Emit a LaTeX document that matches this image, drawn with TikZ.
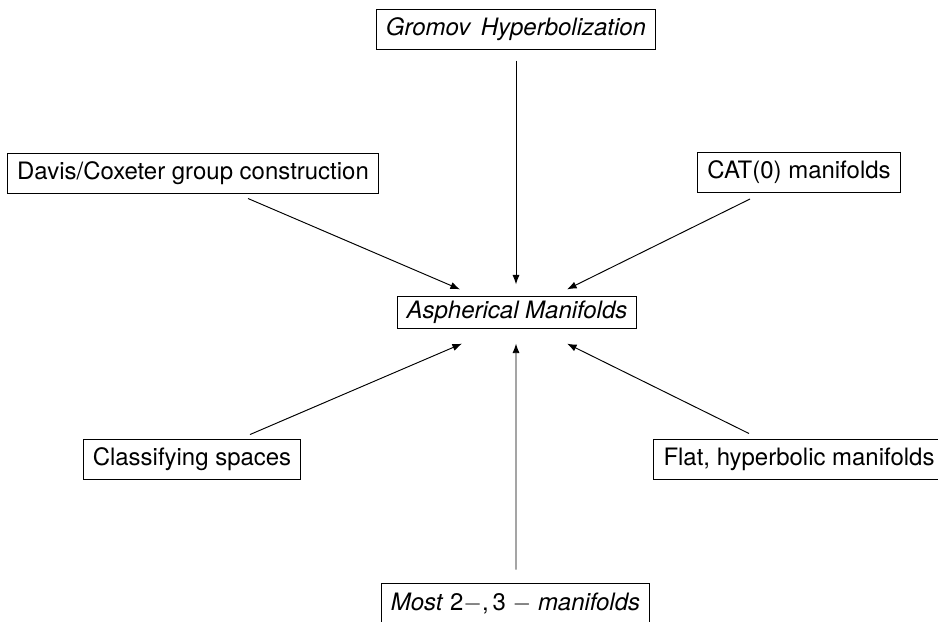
\documentclass[tikz,border=0pt]{standalone}
\usepackage{fontspec}
\setmainfont{TeX Gyre Heros}
\usetikzlibrary{arrows.meta,calc}

\begin{document}
\begin{tikzpicture}[x=0.01467cm, y=-0.01467cm, >={Latex[length=4pt,width=3pt]}]
	\tikzstyle{box}=[draw, inner xsep=4pt, minimum height=16.7pt]
	\useasboundingbox (0,0) rectangle (938,621);
	\node[box] (gro) at (516, 29) {\textit{Gromov\, Hyperbolization}};
	\node[box] (dav) at (193, 173) {Davis/Coxeter group construction};
	\node[box] (cat) at (799, 172.5) {CAT(0) manifolds};
	\node[box, minimum height=0pt, inner ysep=1.8pt] (asp) at (517, 312.5) {\textit{Aspherical Manifolds}};
	\node[box] (cla) at (192, 459) {Classifying spaces};
	\node[box] (fla) at (799, 459) {Flat, hyperbolic manifolds};
	\node[box] (most) at (515.5, 603) {\textit{Most} \textup{2}$-$,\,\textup{3} $-$ \textit{manifolds}};
	\draw[->] ($(gro.south)+(0,11)$) -- ($(asp.north)+(-1,-12)$);
	\draw[->] ($(dav.south)+(55,5)$) -- ($(asp.north)+(-57,-7)$);
	\draw[->] ($(cat.south)+(-49,6)$) -- ($(asp.north)+(50,-7)$);
	\draw[->] ($(cla.north)+(58,-4)$) -- ($(asp.south)+(-55,15)$);
	\draw[->] ($(most.north)+(0.5,-13)$) -- ($(asp.south)+(-1,15)$);
	\draw[->] ($(fla.north)+(-50,-5)$) -- ($(asp.south)+(50,15)$);
\end{tikzpicture}
\end{document}
